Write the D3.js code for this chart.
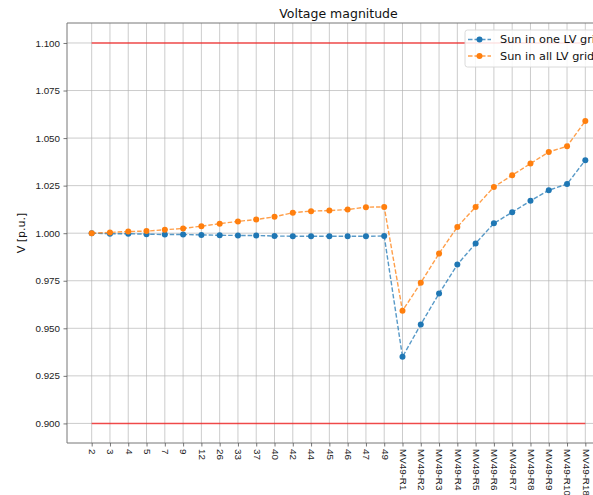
<!DOCTYPE html>
<html>
<head>
<meta charset="utf-8">
<script src="https://cdn.jsdelivr.net/npm/d3@7"></script>
<style>
  body { margin: 0; background: #fff; }
  svg { font-family: "DejaVu Sans", sans-serif; display: block; }
</style>
</head>
<body>
<div id="chart"></div>
<script>
const buses = ["2", "3", "4", "5", "7", "9", "12", "26", "33", "37", "40", "42", "44", "45", "46", "47", "49",
  "MV49-R1", "MV49-R2", "MV49-R3", "MV49-R4", "MV49-R5", "MV49-R6", "MV49-R7", "MV49-R8", "MV49-R9", "MV49-R10", "MV49-R18"];

const sunOneGrid = [1.0000, 0.9997, 0.9997, 0.9995, 0.9993, 0.9993, 0.9991, 0.9989, 0.9988, 0.9988, 0.9985, 0.9984,
  0.9984, 0.9984, 0.9984, 0.9984, 0.9985,
  0.9350, 0.9520, 0.9683, 0.9835, 0.9946, 1.0052, 1.0110, 1.0170, 1.0226, 1.0258, 1.0384];

const sunAllGrids = [1.0000, 1.0004, 1.0009, 1.0011, 1.0018, 1.0025, 1.0037, 1.0050, 1.0062, 1.0072, 1.0086, 1.0108,
  1.0116, 1.0119, 1.0124, 1.0137, 1.0138,
  0.9592, 0.9739, 0.9893, 1.0033, 1.0138, 1.0243, 1.0305, 1.0366, 1.0427, 1.0457, 1.0590];

const yTicks = [0.900, 0.925, 0.950, 0.975, 1.000, 1.025, 1.050, 1.075, 1.100];
const limits = [1.1, 0.9];
const seriesNames = ["Sun in one LV grid", "Sun in all LV grids"];
const colors = ["#1f77b4", "#ff7f0e"];

const W = 593, H = 495;
const margin = { top: 23, right: -17, bottom: 52, left: 67 };
const width = W - margin.left - margin.right;
const height = H - margin.top - margin.bottom;

const svg = d3.select("#chart").append("svg")
  .attr("width", W)
  .attr("height", H);

const g = svg.append("g")
  .attr("transform", `translate(${margin.left},${margin.top})`);

// matplotlib style 5% padding on both ends
const n = buses.length;
const pad = (n - 1) * 0.05;
const xi = d3.scaleLinear().domain([-pad, n - 1 + pad]).range([0, width]);
const x = d => xi(buses.indexOf(d));

const y = d3.scaleLinear().domain([0.8897, 1.1105]).range([height, 0]);

// grid
g.append("g").selectAll("line").data(buses).join("line")
  .attr("x1", d => x(d)).attr("x2", d => x(d))
  .attr("y1", 0).attr("y2", height)
  .attr("stroke", "#b0b0b0").attr("stroke-opacity", 0.65).attr("stroke-width", 1);

g.append("g").selectAll("line").data(yTicks).join("line")
  .attr("x1", 0).attr("x2", width)
  .attr("y1", d => y(d)).attr("y2", d => y(d))
  .attr("stroke", "#b0b0b0").attr("stroke-opacity", 0.65).attr("stroke-width", 1);

// limit lines
g.append("g").selectAll("line").data(limits).join("line")
  .attr("x1", x(buses[0])).attr("x2", x(buses[n - 1]))
  .attr("y1", d => y(d)).attr("y2", d => y(d))
  .attr("stroke", "#ff0000").attr("stroke-opacity", 0.65).attr("stroke-width", 1.5);

// axes
const yAxis = g.append("g")
  .call(d3.axisLeft(y).tickValues(yTicks).tickFormat(d3.format(".3f")).tickSize(3.5).tickPadding(3.5));
const xAxis = g.append("g")
  .attr("transform", `translate(0,${height})`)
  .call(d3.axisBottom(xi).tickValues(d3.range(n)).tickFormat(i => buses[i]).tickSize(3.5).tickPadding(0));

[xAxis, yAxis].forEach(a => {
  a.select(".domain").attr("stroke", "#777").attr("stroke-width", 1);
  a.selectAll(".tick line").attr("stroke", "#555").attr("stroke-width", 0.8);
  a.selectAll("text").attr("fill", "#222").style("font-size", "9.8px");
});
yAxis.select(".domain").attr("d", `M0,0V${height}`);
xAxis.select(".domain").attr("d", `M0,0H${width}`);

xAxis.selectAll(".tick text")
  .attr("transform", "rotate(90)")
  .attr("text-anchor", "start")
  .attr("x", 6)
  .attr("y", 0)
  .attr("dy", "0.32em");

// top / right spines
g.append("line").attr("x1", 0).attr("x2", width).attr("y1", 0).attr("y2", 0)
  .attr("stroke", "#777").attr("stroke-width", 1);
g.append("line").attr("x1", width).attr("x2", width).attr("y1", 0).attr("y2", height)
  .attr("stroke", "#777").attr("stroke-width", 1);

// series
const series = [sunOneGrid, sunAllGrids];
const line = d3.line().x((d, i) => x(buses[i])).y(d => y(d));

series.forEach((vals, k) => {
  g.append("path")
    .datum(vals)
    .attr("d", line)
    .attr("fill", "none")
    .attr("stroke", colors[k])
    .attr("stroke-opacity", 0.75)
    .attr("stroke-width", 1.4)
    .attr("stroke-dasharray", "4.5,2");
  g.append("g").selectAll("circle").data(vals).join("circle")
    .attr("cx", (d, i) => x(buses[i]))
    .attr("cy", d => y(d))
    .attr("r", 3)
    .attr("fill", colors[k]);
});

// title and y label
svg.append("text")
  .attr("x", margin.left + width / 2)
  .attr("y", 18)
  .attr("text-anchor", "middle")
  .style("font-size", "12.5px")
  .attr("fill", "#111")
  .text("Voltage magnitude");

svg.append("text")
  .attr("transform", `translate(25,${margin.top + height / 2}) rotate(-90)`)
  .attr("text-anchor", "middle")
  .style("font-size", "11px")
  .attr("fill", "#111")
  .text("V [p.u.]");

// legend
const lg = svg.append("g").attr("transform", "translate(465,30)");
lg.append("rect")
  .attr("width", 170).attr("height", 37).attr("rx", 2.5)
  .attr("fill", "#fff").attr("fill-opacity", 0.85)
  .attr("stroke", "#d6d6d6").attr("stroke-width", 0.9);

seriesNames.forEach((name, k) => {
  const row = lg.append("g").attr("transform", `translate(0,${9.5 + k * 16.5})`);
  row.append("line")
    .attr("x1", 3).attr("x2", 26)
    .attr("stroke", colors[k]).attr("stroke-opacity", 0.75)
    .attr("stroke-width", 1.4).attr("stroke-dasharray", "4.5,2");
  row.append("circle").attr("cx", 14.5).attr("r", 3).attr("fill", colors[k]);
  row.append("text")
    .attr("x", 35).attr("dy", "0.35em")
    .style("font-size", "11.3px")
    .attr("fill", "#111")
    .text(name);
});
</script>
</body>
</html>
